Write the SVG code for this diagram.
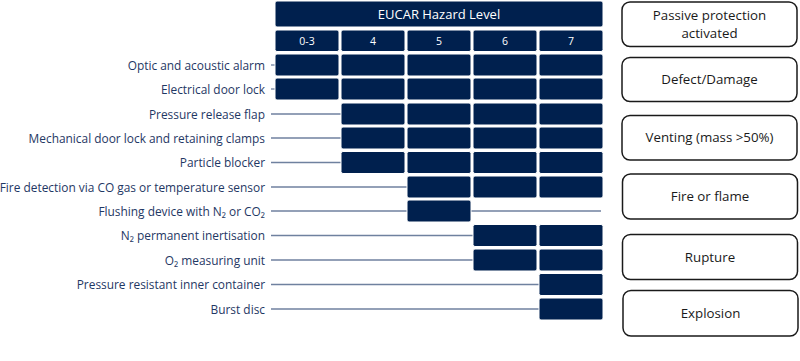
<svg xmlns="http://www.w3.org/2000/svg" width="800" height="361" viewBox="0 0 800 361">
<style>
.c{fill:#00204e;stroke:#ffffff;stroke-width:1;}
.hd{fill:#ffffff;font-family:"Open Sans","Liberation Sans",Arial,sans-serif;text-anchor:middle;}
.lb{fill:#1f3864;font-family:"Open Sans","Liberation Sans",Arial,sans-serif;font-size:11.9px;text-anchor:end;}
.ln{stroke:#6f819f;stroke-width:1.3;fill:none;}
.bx{fill:#ffffff;stroke:#1a1a1a;stroke-width:1.5;}
.bt{fill:#1a1a1a;font-family:"Open Sans","Liberation Sans",sans-serif;font-size:13.3px;text-anchor:middle;}
</style>
<rect width="800" height="361" fill="#ffffff"/>
<g id="connectors">
<line class="ln" x1="271" y1="65" x2="276" y2="65"/>
<line class="ln" x1="271" y1="89" x2="276" y2="89"/>
<line class="ln" x1="271" y1="114" x2="342" y2="114"/>
<line class="ln" x1="271" y1="138" x2="342" y2="138"/>
<line class="ln" x1="271" y1="162.5" x2="342" y2="162.5"/>
<line class="ln" x1="271" y1="187" x2="408" y2="187"/>
<line class="ln" x1="271" y1="211" x2="601" y2="211"/>
<line class="ln" x1="271" y1="235.5" x2="474" y2="235.5"/>
<line class="ln" x1="271" y1="260" x2="474" y2="260"/>
<line class="ln" x1="271" y1="284.5" x2="540" y2="284.5" stroke="#a3adbd"/>
<line class="ln" x1="271" y1="309" x2="540" y2="309"/>
</g>
<g id="header">
<rect class="c" x="275" y="1" width="328" height="26" rx="2"/>
<text class="hd" x="439" y="19" font-size="13">EUCAR Hazard Level</text>
<rect class="c" x="275" y="30" width="64" height="21.5" rx="2"/>
<rect class="c" x="341" y="30" width="64" height="21.5" rx="2"/>
<rect class="c" x="407" y="30" width="64" height="21.5" rx="2"/>
<rect class="c" x="473" y="30" width="64" height="21.5" rx="2"/>
<rect class="c" x="539" y="30" width="64" height="21.5" rx="2"/>
<text class="hd" x="307" y="45" font-size="10.5">0-3</text>
<text class="hd" x="373" y="45" font-size="10.5">4</text>
<text class="hd" x="439" y="45" font-size="10.5">5</text>
<text class="hd" x="505" y="45" font-size="10.5">6</text>
<text class="hd" x="571" y="45" font-size="10.5">7</text>
</g>
<g id="row-optic">
<text class="lb" x="265" y="69.5">Optic and acoustic alarm</text>
<rect class="c" x="275" y="54" width="64" height="22" rx="2"/>
<rect class="c" x="341" y="54" width="64" height="22" rx="2"/>
<rect class="c" x="407" y="54" width="64" height="22" rx="2"/>
<rect class="c" x="473" y="54" width="64" height="22" rx="2"/>
<rect class="c" x="539" y="54" width="64" height="22" rx="2"/>
</g>
<g id="row-electrical">
<text class="lb" x="265" y="93.5">Electrical door lock</text>
<rect class="c" x="275" y="78" width="64" height="22" rx="2"/>
<rect class="c" x="341" y="78" width="64" height="22" rx="2"/>
<rect class="c" x="407" y="78" width="64" height="22" rx="2"/>
<rect class="c" x="473" y="78" width="64" height="22" rx="2"/>
<rect class="c" x="539" y="78" width="64" height="22" rx="2"/>
</g>
<g id="row-pressure-flap">
<text class="lb" x="265" y="118.5">Pressure release flap</text>
<rect class="c" x="341" y="103" width="64" height="22" rx="2"/>
<rect class="c" x="407" y="103" width="64" height="22" rx="2"/>
<rect class="c" x="473" y="103" width="64" height="22" rx="2"/>
<rect class="c" x="539" y="103" width="64" height="22" rx="2"/>
</g>
<g id="row-mechanical">
<text class="lb" x="265" y="142.5">Mechanical door lock and retaining clamps</text>
<rect class="c" x="341" y="127" width="64" height="22" rx="2"/>
<rect class="c" x="407" y="127" width="64" height="22" rx="2"/>
<rect class="c" x="473" y="127" width="64" height="22" rx="2"/>
<rect class="c" x="539" y="127" width="64" height="22" rx="2"/>
</g>
<g id="row-particle">
<text class="lb" x="265" y="167">Particle blocker</text>
<rect class="c" x="341" y="151.5" width="64" height="22" rx="2"/>
<rect class="c" x="407" y="151.5" width="64" height="22" rx="2"/>
<rect class="c" x="473" y="151.5" width="64" height="22" rx="2"/>
<rect class="c" x="539" y="151.5" width="64" height="22" rx="2"/>
</g>
<g id="row-fire-detection">
<text class="lb" x="265" y="191.5">Fire detection via CO gas or temperature sensor</text>
<rect class="c" x="407" y="176" width="64" height="22" rx="2"/>
<rect class="c" x="473" y="176" width="64" height="22" rx="2"/>
<rect class="c" x="539" y="176" width="64" height="22" rx="2"/>
</g>
<g id="row-flushing">
<text class="lb" x="265" y="215.5">Flushing device with N₂ or CO₂</text>
<rect class="c" x="407" y="200" width="64" height="22" rx="2"/>
</g>
<g id="row-n2">
<text class="lb" x="265" y="240">N₂ permanent inertisation</text>
<rect class="c" x="473" y="224.5" width="64" height="22" rx="2"/>
<rect class="c" x="539" y="224.5" width="64" height="22" rx="2"/>
</g>
<g id="row-o2">
<text class="lb" x="265" y="264.5">O₂ measuring unit</text>
<rect class="c" x="473" y="249" width="64" height="22" rx="2"/>
<rect class="c" x="539" y="249" width="64" height="22" rx="2"/>
</g>
<g id="row-pressure-container">
<text class="lb" x="265" y="289">Pressure resistant inner container</text>
<rect class="c" x="539" y="273.5" width="64" height="22" rx="2"/>
</g>
<g id="row-burst">
<text class="lb" x="265" y="313.5">Burst disc</text>
<rect class="c" x="539" y="298" width="64" height="22" rx="2"/>
</g>
<g id="legend-passive">
<rect class="bx" x="622" y="2" width="175" height="44.5" rx="8"/>
<text class="bt" x="709.5" y="20">Passive protection</text>
<text class="bt" x="709.5" y="38">activated</text>
</g>
<g id="legend-defect">
<rect class="bx" x="622" y="57.5" width="175" height="44" rx="8"/>
<text class="bt" x="709.5" y="84">Defect/Damage</text>
</g>
<g id="legend-venting">
<rect class="bx" x="622" y="115.5" width="175" height="44.5" rx="8"/>
<text class="bt" x="709.5" y="142">Venting (mass &gt;50%)</text>
</g>
<g id="legend-fire">
<rect class="bx" x="622.5" y="174" width="175" height="45" rx="8"/>
<text class="bt" x="710" y="201">Fire or flame</text>
</g>
<g id="legend-rupture">
<rect class="bx" x="622.5" y="234.5" width="175" height="45" rx="8"/>
<text class="bt" x="710" y="262">Rupture</text>
</g>
<g id="legend-explosion">
<rect class="bx" x="623" y="290.5" width="175" height="45.5" rx="8"/>
<text class="bt" x="710.5" y="318">Explosion</text>
</g>
</svg>
